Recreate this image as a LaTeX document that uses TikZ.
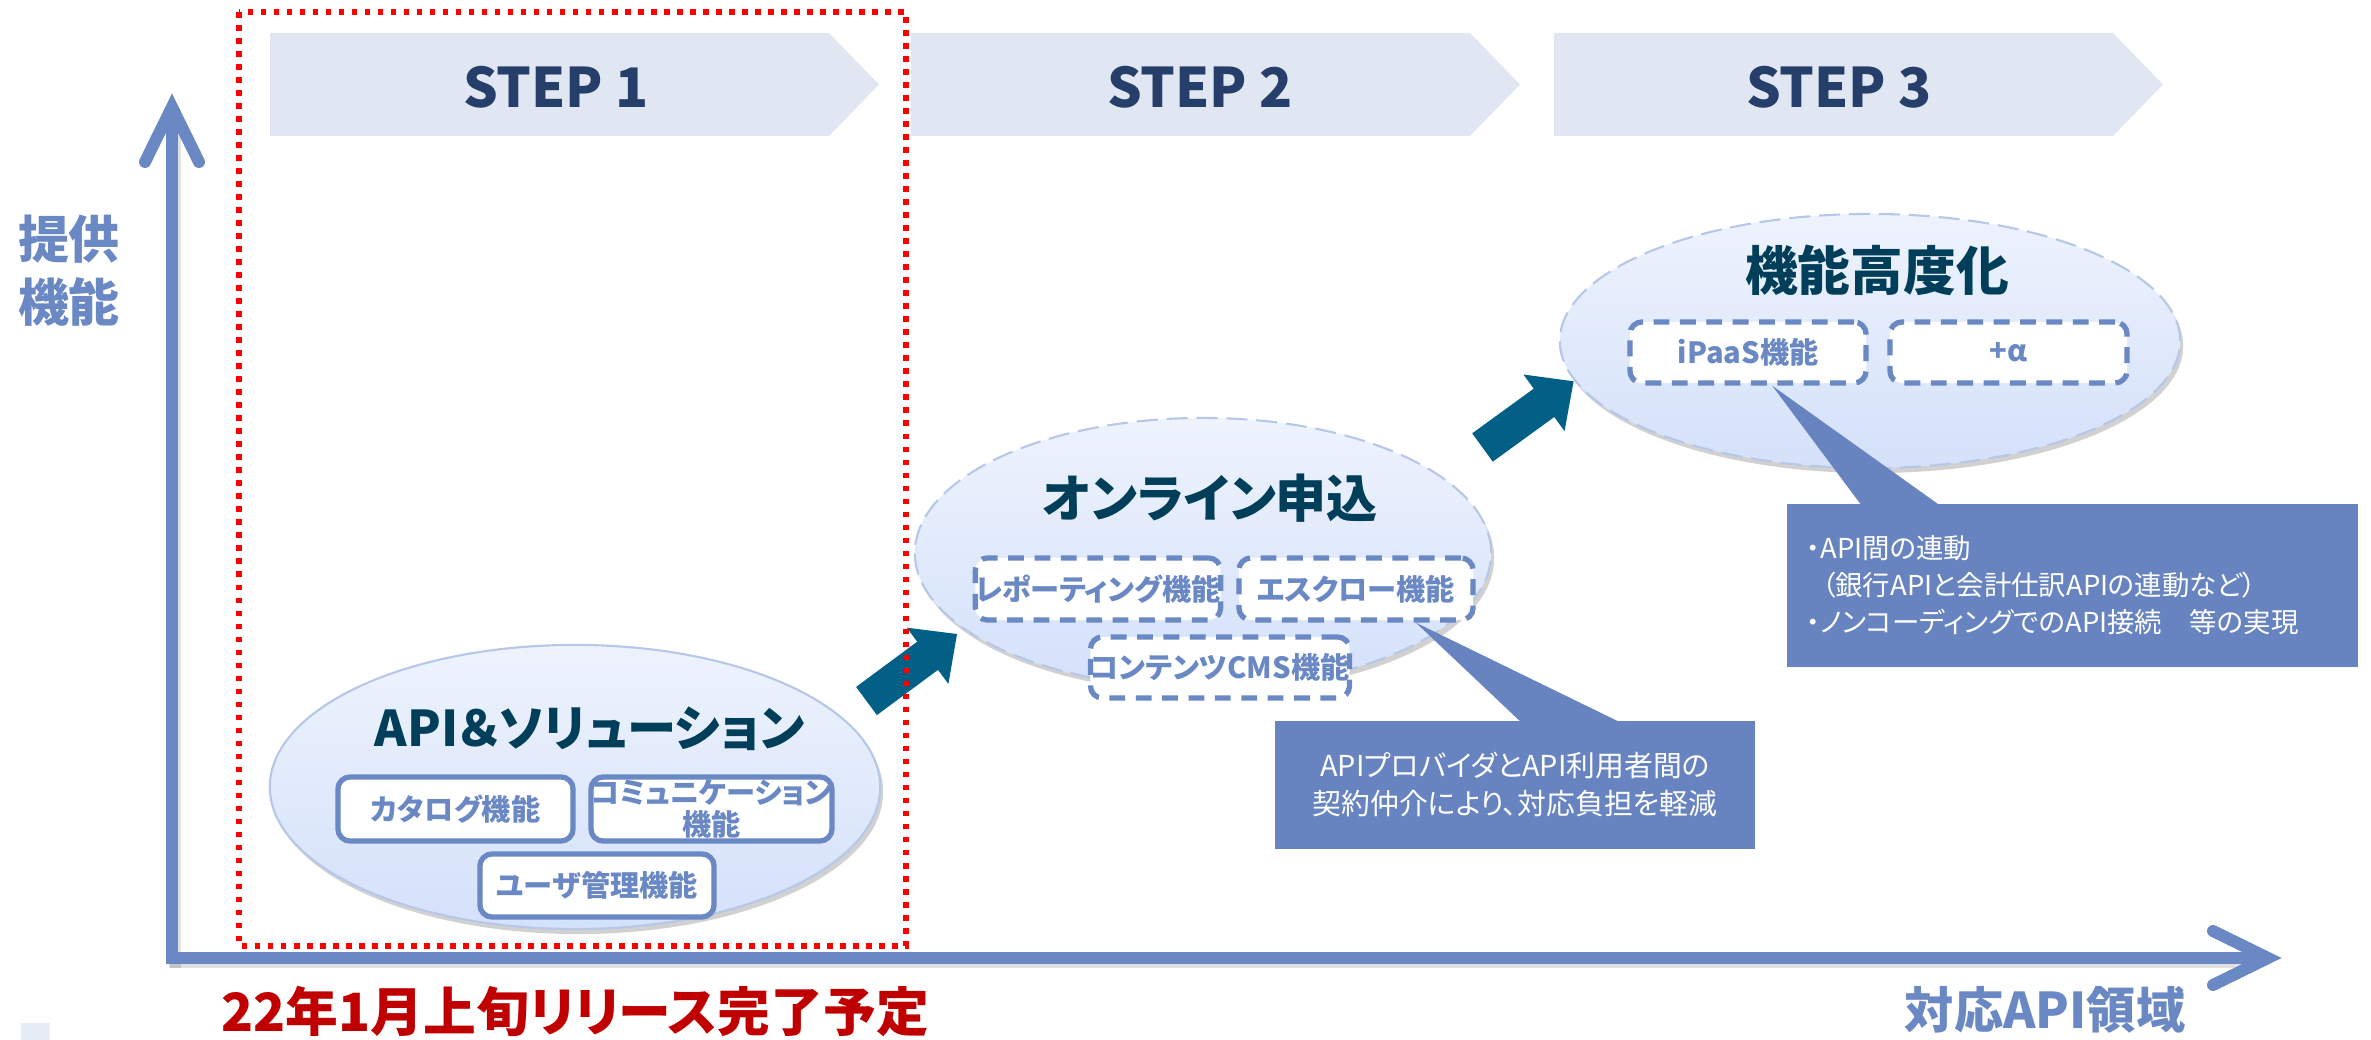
\documentclass[tikz,border=0pt]{standalone}
\usepackage{fontspec}
\setmainfont{Noto Sans CJK JP}[RawFeature=+palt]
\usetikzlibrary{shapes.geometric,shadows,calc}
\definecolor{axisblue}{HTML}{6A88C3}
\definecolor{bannerbg}{HTML}{E1E7F2}
\definecolor{stepnavy}{HTML}{263F6A}
\definecolor{titleteal}{HTML}{003E5A}
\definecolor{arrowteal}{HTML}{025F86}
\definecolor{callblue}{HTML}{6884C0}
\definecolor{elltop}{HTML}{EEF3FD}
\definecolor{ellbot}{HTML}{D4E1FA}
\definecolor{ellline}{HTML}{B6C7E8}
\definecolor{darkred}{HTML}{C00000}
\definecolor{smallsq}{HTML}{E6ECF6}
\tikzset{
  axisline/.style={line width=3.4pt, draw=axisblue},
  axishead/.style={line width=3.4pt, draw=axisblue, line cap=round, line join=miter},
  axisshadow/.style={line width=3.6pt, draw=black, opacity=0.12},
  banner/.style={fill=bannerbg},
  steptext/.style={font=\fontsize{15.5}{18}\selectfont\bfseries, text=stepnavy, inner sep=0pt},
  reddot/.style={draw=red, line width=1.7pt, dash pattern=on 1.6pt off 2.1pt},
  ell/.style={ellipse, inner sep=0pt, top color=elltop, bottom color=ellbot, draw=ellline, line width=0.6pt,
    drop shadow={shadow xshift=0.03cm, shadow yshift=-0.05cm, opacity=0.18, fill=black}},
  dashell/.style={dash pattern=on 6pt off 2.5pt},
  ttl/.style={font=\fontsize{14.5}{17}\selectfont\bfseries, text=titleteal, inner sep=0pt},
  solidbox/.style={draw=axisblue, line width=1.5pt, fill=white, rounded corners=0.12cm, inner sep=0pt,
    minimum height=0.62cm, font=\fontsize{8.3}{9.2}\selectfont\bfseries, text=axisblue, align=center},
  dashbox/.style={solidbox, dash pattern=on 4.5pt off 3pt},
  blockarrow/.style={fill=arrowteal},
  callbox/.style={fill=callblue, inner sep=0pt},
  calltext/.style={text=white, inner sep=0pt},
  axislabel/.style={font=\fontsize{14}{18}\selectfont\bfseries, text=axisblue, inner sep=0pt},
}
\begin{document}
\begin{tikzpicture}[x=0.01cm,y=-0.01cm]
\useasboundingbox (0,0) rectangle (2371,1040);

% STEP banners
\foreach \x in {270,911,1554} {
  \fill[banner] (\x,33) -- (\x+559,33) -- (\x+609,84.5) -- (\x+559,136) -- (\x,136) -- cycle;
}
\node[steptext] (step1) at (556,87) {STEP 1};
\node[steptext] (step2) at (1200,87) {STEP 2};
\node[steptext] (step3) at (1839,87) {STEP 3};

% axes
\coordinate (orig) at (172,958);
\coordinate (ytip) at (172,107);
\coordinate (xtip) at (2268,958);
\draw[axisshadow] (175,968) -- (175,112);
\draw[axisshadow] (170,962) -- (2262,962);
\draw[axisline] ($(orig)+(0,6)$) -- ($(ytip)+(0,4)$);
\draw[axisline] ($(orig)+(-6,0)$) -- ($(xtip)+(-4,0)$);
\draw[axishead] ($(ytip)+(-27,55)$) -- (ytip) -- ($(ytip)+(27,55)$);
\draw[axishead] ($(xtip)+(-55,-27)$) -- (xtip) -- ($(xtip)+(-55,27)$);

\node[axislabel, align=left, font=\fontsize{14.5}{17.9}\selectfont\bfseries] (ylabel) at (69,271) {提供\\機能};
\node[axislabel] (xlabel) at (2045,1010) {対応API領域};
\node[axislabel, text=darkred, anchor=west, font=\fontsize{15}{18}\selectfont\bfseries] (release) at (221,1012) {22年1月上旬リリース完了予定};
\fill[smallsq] (21,1023) rectangle (50,1040);

% ellipses
\node[ell, minimum width=6.1cm, minimum height=2.84cm] (e1) at (575,787) {};
\node[ell, dashell, minimum width=5.76cm, minimum height=2.70cm] (e2) at (1203,553) {};
\node[ell, dashell, minimum width=6.2cm, minimum height=2.54cm] (e3) at (1870,341) {};

\node[ttl, font=\fontsize{14}{17}\selectfont\bfseries] (t1) at (590,729) {API＆ソリューション};
\node[ttl] (t2) at (1210,498) {オンライン申込};
\node[ttl, font=\fontsize{15}{17}\selectfont\bfseries] (t3) at (1877,270) {機能高度化};

% function boxes
\node[solidbox, minimum width=2.35cm, minimum height=0.64cm] (cat) at (455.5,809) {カタログ機能};
\node[solidbox, minimum width=2.33cm, minimum height=0.64cm] (comm) at (711.5,809) {コミュニケーション\\機能};
\node[solidbox, minimum width=2.34cm, minimum height=0.63cm] (user) at (597,885.5) {ユーザ管理機能};
\node[dashbox, minimum width=2.32cm] (rep) at (1098,589) {レポーティング機能};
\node[dashbox, minimum width=2.34cm] (esc) at (1356,589) {エスクロー機能};
\node[dashbox, minimum width=2.42cm, minimum height=0.61cm] (cms) at (1220,667.5) {コンテンツCMS機能};
\node[dashbox, minimum width=2.36cm, minimum height=0.61cm] (ipaas) at (1748,352.5) {iPaaS機能};
\node[dashbox, minimum width=2.37cm, minimum height=0.61cm] (plus) at (2008.5,352.5) {+α};

% block arrows
\fill[blockarrow, shift={(866.5,701)}, rotate=36.5]
  (0,-17.5) -- (76,-17.5) -- (76,-35) -- (112.6,0) -- (76,35) -- (76,17.5) -- (0,17.5) -- cycle;
\fill[blockarrow, shift={(1482.5,447.5)}, rotate=36]
  (0,-17.5) -- (76,-17.5) -- (76,-35) -- (112.6,0) -- (76,35) -- (76,17.5) -- (0,17.5) -- cycle;

% callouts
\node[callbox, minimum width=4.8cm, minimum height=1.28cm] (call1) at (1515,785) {};
\coordinate (c1tip) at ($(esc.south west)!0.75!(esc.south east)$);
\fill[callblue] ($(call1.north west)+(248,3)$) -- (c1tip) -- ($(call1.north west)+(348,3)$) -- cycle;
\node[calltext, align=center, font=\fontsize{8.2}{10.8}\selectfont] (call1txt) at (call1.center)
  {APIプロバイダとAPI利用者間の\\契約仲介により、対応負担を軽減};

\node[callbox, minimum width=5.71cm, minimum height=1.63cm] (call2) at (2072.5,585.5) {};
\coordinate (c2tip) at ($(ipaas.south west)!0.6!(ipaas.south east)$);
\fill[callblue] ($(call2.north west)+(76,3)$) -- (c2tip) -- ($(call2.north west)+(155,3)$) -- cycle;
\node[calltext, align=left, anchor=west, font=\fontsize{7.8}{10.5}\selectfont] (call2txt) at (1806,585)
  {・API間の連動\\\hspace*{0.55em}（銀行APIと会計仕訳APIの連動など）\\・ノンコーディングでのAPI接続　等の実現};

% STEP 1 frame
\draw[reddot] (239,12) rectangle (906,946);
\end{tikzpicture}
\end{document}
